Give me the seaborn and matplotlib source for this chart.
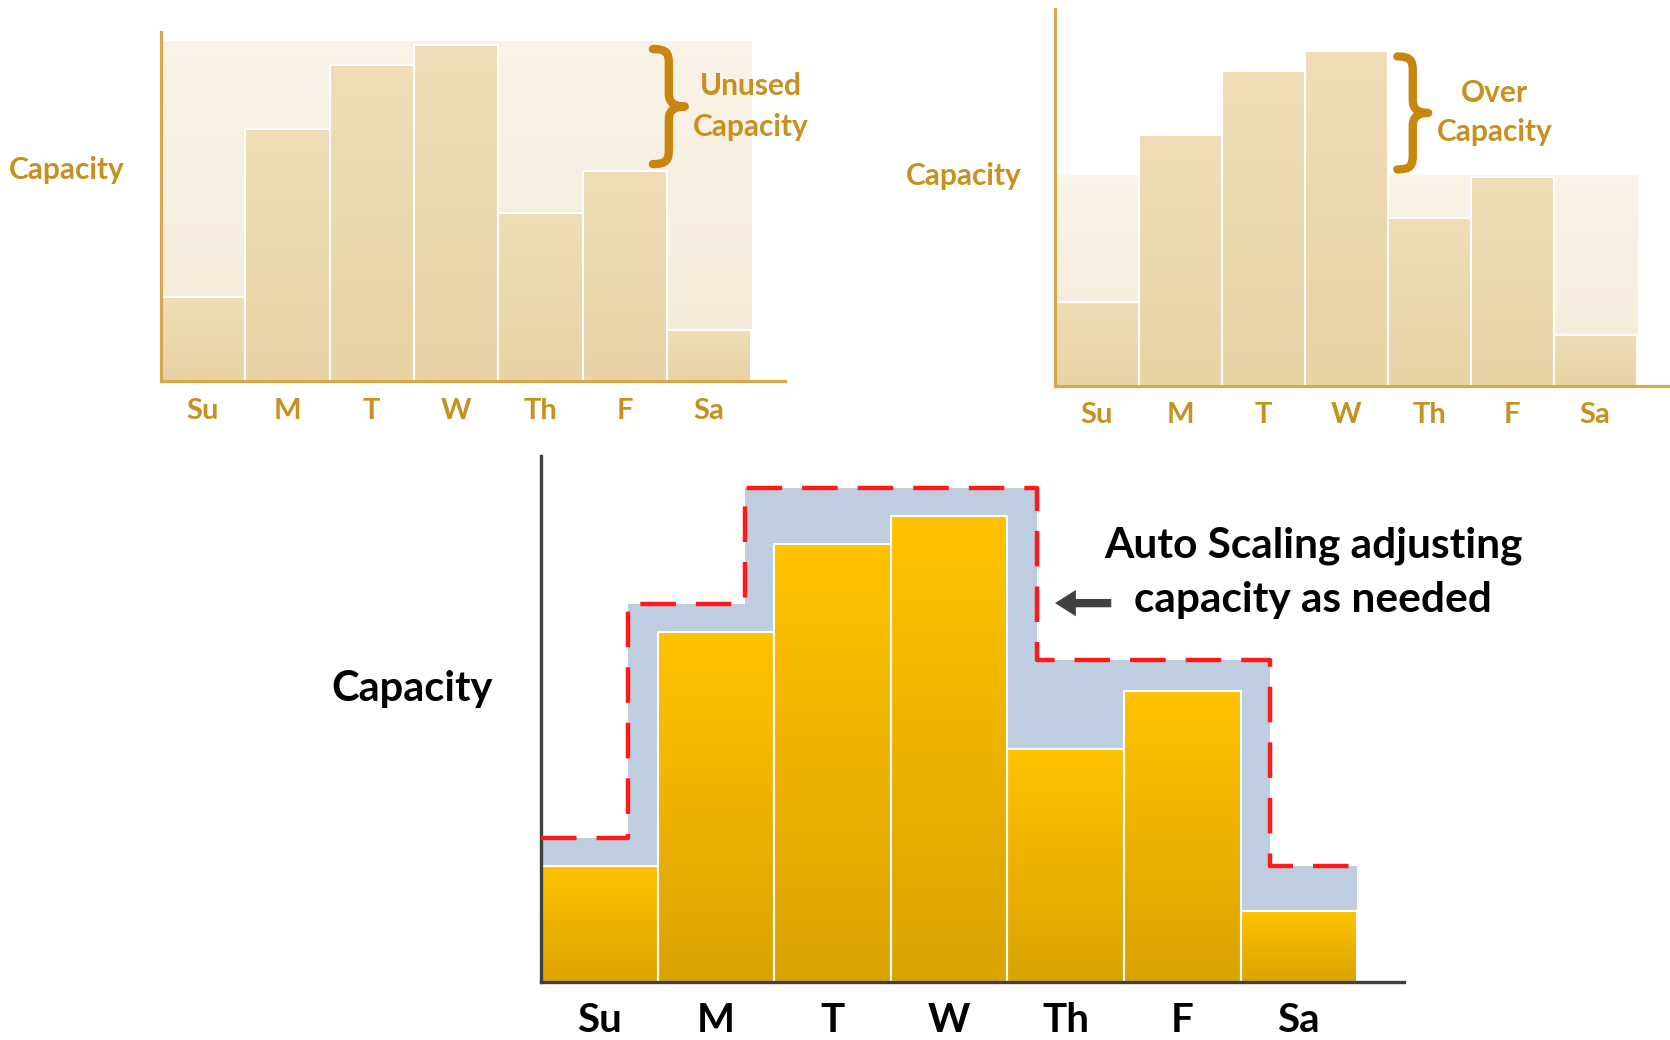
import numpy as np
import matplotlib
matplotlib.use("Agg")
import matplotlib.pyplot as plt
from matplotlib.colors import LinearSegmentedColormap
from matplotlib.path import Path
from matplotlib.patches import PathPatch, FancyArrowPatch
import seaborn as sns

sns.set_style("white")
plt.rcParams['font.family'] = ['Lato', 'DejaVu Sans']

# Data (demand per day, relative to the peak day = 100)
DAYS = ["Su", "M", "T", "W", "Th", "F", "Sa"]
DEMAND = [25, 75, 94, 100, 50, 62.5, 15.3]
PEAK_CAPACITY = 101      # provisioned for the peak -> unused capacity
AVERAGE_CAPACITY = 63    # provisioned for the average -> over capacity
AUTO_CAPACITY = [31, 81, 106, 106, 69, 69, 25]
STEP_LEAD = 0.25         # auto scaling scales up early, scales down late

# Colours
GOLD_TEXT = "#C8901E"
GOLD_BRACE = "#C8860F"
GOLD_AXIS = "#D8A84C"
TAN_TOP, TAN_BOTTOM = "#EFDDB7", "#E9D3A5"
CREAM_TOP, CREAM_BOTTOM = "#F9F3E8", "#F4EAD7"
YELLOW_TOP, YELLOW_BOTTOM = "#FFC200", "#DBA300"
BLUE_FILL = "#BFCDE0"
DARK = "#404040"

# reference sketch size used for placing things
REF_W, REF_H = 1568, 976


def fx(px):
    return px / REF_W


def fy(py):
    return 1 - py / REF_H


def gradient_bars(ax, patches, bottom_color, top_color, zorder):
    cmap = LinearSegmentedColormap.from_list("grad", [bottom_color, top_color])
    grad = np.linspace(0, 1, 128).reshape(-1, 1)
    for p in patches:
        x0, y0 = p.get_x(), p.get_y()
        w, h = p.get_width(), p.get_height()
        im = ax.imshow(grad, cmap=cmap, extent=[x0, x0 + w, y0, y0 + h],
                       origin='lower', aspect='auto', zorder=zorder,
                       interpolation='bilinear')
        im.set_clip_path(p)
        p.set_facecolor('none')
        p.set_zorder(zorder + 0.5)


def brace(fig, x0, x1, ytop, ybot, color):
    # "}" shaped brace, given in reference pixels
    xm = x0 + (x1 - x0) * 0.5
    h = ybot - ytop
    ymid = (ytop + ybot) / 2
    w = x1 - x0
    pts = [(x0, ytop),
           (x0 + 0.45 * w, ytop), (xm, ytop + 0.04 * h), (xm, ytop + 0.13 * h),
           (xm, ymid - 0.11 * h),
           (xm, ymid - 0.03 * h), (x1 - 0.3 * w, ymid), (x1, ymid),
           (x1 - 0.3 * w, ymid), (xm, ymid + 0.03 * h), (xm, ymid + 0.11 * h),
           (xm, ybot - 0.13 * h),
           (xm, ybot - 0.04 * h), (x0 + 0.45 * w, ybot), (x0, ybot)]
    codes = [Path.MOVETO] + [Path.CURVE4] * 3 + [Path.LINETO] + [Path.CURVE4] * 6 \
        + [Path.LINETO] + [Path.CURVE4] * 3
    verts = [(fx(a), fy(b)) for a, b in pts]
    fig.add_artist(PathPatch(Path(verts, codes), transform=fig.transFigure,
                             facecolor='none', edgecolor=color, lw=6,
                             capstyle='round', joinstyle='round'))


def style_axes(ax, color, lw, ylim, label_size, label_color, pad):
    ax.set_xlim(-0.5, 6.9)
    ax.set_ylim(0, ylim)
    sns.despine(ax=ax)
    for side in ["left", "bottom"]:
        ax.spines[side].set_color(color)
        ax.spines[side].set_linewidth(lw)
    ax.set_yticks([])
    ax.set_xlabel("")
    ax.set_ylabel("")
    ax.tick_params(axis='x', length=0, pad=pad, labelsize=label_size,
                   labelcolor=label_color)
    for lbl in ax.get_xticklabels():
        lbl.set_fontweight('bold')
    ax.set_facecolor('none')


fig = plt.figure(figsize=(16.7, 10.4), dpi=100)

# ---- top left: provisioned for the peak ----
ax1 = fig.add_axes([fx(151), fy(358), fx(737) - fx(151), fy(30) - fy(358)])
sns.barplot(x=DAYS, y=[PEAK_CAPACITY] * len(DAYS), color=CREAM_TOP, width=1.0,
            linewidth=0, ax=ax1)
gradient_bars(ax1, ax1.containers[-1].patches, CREAM_BOTTOM, CREAM_TOP, 1)
sns.barplot(x=DAYS, y=DEMAND, color=TAN_TOP, width=1.0, edgecolor="white",
            linewidth=1.5, ax=ax1)
gradient_bars(ax1, ax1.containers[-1].patches, TAN_BOTTOM, TAN_TOP, 2)
style_axes(ax1, GOLD_AXIS, 2.3, 103.8, 21, GOLD_TEXT, 12)

# ---- top right: provisioned for the average ----
ax2 = fig.add_axes([fx(991), fy(362), 1 - fx(991), fy(8) - fy(362)])
sns.barplot(x=DAYS, y=[AVERAGE_CAPACITY] * len(DAYS), color=CREAM_TOP, width=1.0,
            linewidth=0, ax=ax2)
gradient_bars(ax2, ax2.containers[-1].patches, CREAM_BOTTOM, CREAM_TOP, 1)
sns.barplot(x=DAYS, y=DEMAND, color=TAN_TOP, width=1.0, edgecolor="white",
            linewidth=1.5, ax=ax2)
gradient_bars(ax2, ax2.containers[-1].patches, TAN_BOTTOM, TAN_TOP, 2)
style_axes(ax2, GOLD_AXIS, 2.3, 112.7, 21, GOLD_TEXT, 12)

# ---- bottom: auto scaling ----
ax3 = fig.add_axes([fx(508), fy(922), fx(1318) - fx(508), fy(428) - fy(922)])

# step outline of the auto scaled capacity
xs = [-0.5]
ys = [AUTO_CAPACITY[0]]
for i in range(1, len(AUTO_CAPACITY)):
    edge = i - 0.5
    shift = -STEP_LEAD if AUTO_CAPACITY[i] > AUTO_CAPACITY[i - 1] else STEP_LEAD
    xs.append(edge + shift)
    ys.append(AUTO_CAPACITY[i])
xs.append(len(AUTO_CAPACITY) - 0.5)
ys.append(AUTO_CAPACITY[-1])
ax3.fill_between(xs, ys, step='post', color=BLUE_FILL, lw=0, zorder=1)

sns.barplot(x=DAYS, y=DEMAND, color=YELLOW_TOP, width=1.0, edgecolor="white",
            linewidth=1.5, ax=ax3)
gradient_bars(ax3, ax3.containers[-1].patches, YELLOW_BOTTOM, YELLOW_TOP, 2)
ax3.step(xs, ys, where='post', color="#FF1A1A", lw=3.2,
         linestyle=(0, (8, 4.5)), zorder=4)
style_axes(ax3, DARK, 2.4, 112.8, 29, "black", 14)

# ---- labels ----
fig.text(fx(63), fy(160), "Capacity", ha='center', va='center', fontsize=21.5,
         fontweight='bold', color=GOLD_TEXT)
fig.text(fx(905), fy(165), "Capacity", ha='center', va='center', fontsize=21.5,
         fontweight='bold', color=GOLD_TEXT)
fig.text(fx(387), fy(647), "Capacity", ha='center', va='center', fontsize=30,
         fontweight='bold', color="black")

fig.text(fx(705), fy(81), "Unused", ha='center', va='center', fontsize=21.5,
         fontweight='bold', color=GOLD_TEXT)
fig.text(fx(705), fy(119), "Capacity", ha='center', va='center', fontsize=21.5,
         fontweight='bold', color=GOLD_TEXT)
fig.text(fx(1403), fy(87), "Over", ha='center', va='center', fontsize=21.5,
         fontweight='bold', color=GOLD_TEXT)
fig.text(fx(1403), fy(124), "Capacity", ha='center', va='center', fontsize=21.5,
         fontweight='bold', color=GOLD_TEXT)
brace(fig, 613, 643, 46, 154, GOLD_BRACE)
brace(fig, 1312, 1341, 53, 159, GOLD_BRACE)

fig.text(fx(1233), fy(512), "Auto Scaling adjusting", ha='center', va='center',
         fontsize=30.5, fontweight='bold', color="black")
fig.text(fx(1233), fy(563), "capacity as needed", ha='center', va='center',
         fontsize=30.5, fontweight='bold', color="black")
fig.add_artist(FancyArrowPatch((fx(1046), fy(566)), (fx(988), fy(566)),
                               transform=fig.transFigure,
                               arrowstyle="simple,head_length=1.5,head_width=1.9,tail_width=0.6",
                               mutation_scale=10, color=DARK, lw=0))

fig.savefig("out.png", dpi=100, facecolor="white")
